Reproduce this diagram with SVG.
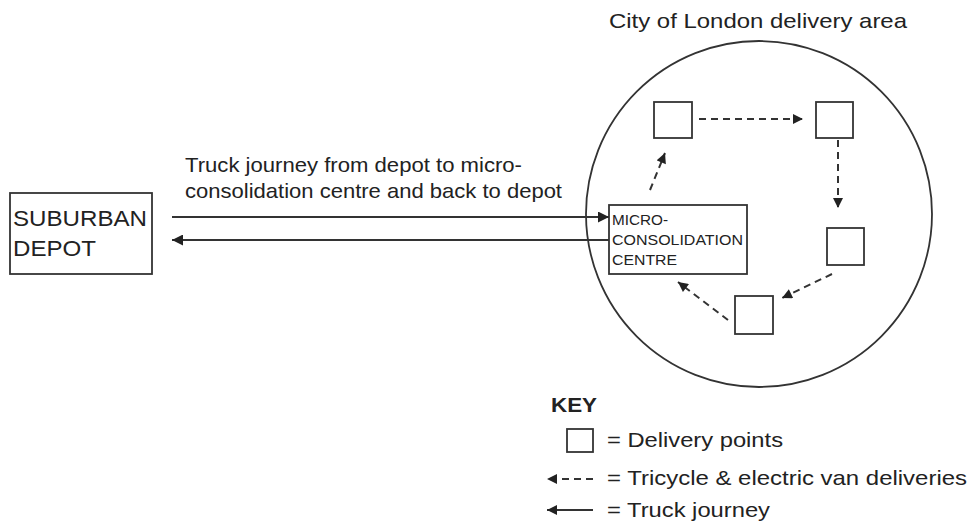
<svg xmlns="http://www.w3.org/2000/svg" width="971" height="524" viewBox="0 0 971 524">
<style>
text{font-family:"Liberation Sans",Arial,sans-serif;fill:#222;}
.box{fill:#fff;stroke:#333;stroke-width:1.8;}
.solid{stroke:#333;stroke-width:2;fill:none;}
.dash{stroke:#333;stroke-width:2;fill:none;stroke-dasharray:7 5;}
</style>
<defs>
<marker id="ah" viewBox="0 0 10 10" refX="10" refY="5" markerWidth="11" markerHeight="10" markerUnits="userSpaceOnUse" orient="auto">
<path d="M0,0 L10,5 L0,10 z" fill="#222"/>
</marker>
<marker id="ah2" viewBox="0 0 10 10" refX="10" refY="5" markerWidth="12" markerHeight="11" markerUnits="userSpaceOnUse" orient="auto">
<path d="M0,0 L10,5 L0,10 z" fill="#222"/>
</marker>
</defs>
<rect width="971" height="524" fill="#fff"/>

<g id="area">
<circle cx="759" cy="214" r="173" fill="none" stroke="#333" stroke-width="1.8"/>
<text x="609" y="28" font-size="21" textLength="298" lengthAdjust="spacingAndGlyphs">City of London delivery area</text>
</g>

<g id="depot">
<rect class="box" x="10" y="193" width="142" height="81"/>
<text x="13" y="226" font-size="22" textLength="134" lengthAdjust="spacingAndGlyphs">SUBURBAN</text>
<text x="13" y="256" font-size="22" textLength="83" lengthAdjust="spacingAndGlyphs">DEPOT</text>
</g>

<g id="micro">
<rect class="box" x="609" y="205" width="138" height="69"/>
<text x="612" y="225" font-size="15" textLength="56" lengthAdjust="spacingAndGlyphs">MICRO-</text>
<text x="612" y="245" font-size="15" textLength="131" lengthAdjust="spacingAndGlyphs">CONSOLIDATION</text>
<text x="612" y="265" font-size="15" textLength="65" lengthAdjust="spacingAndGlyphs">CENTRE</text>
</g>

<g id="dp1"><rect class="box" x="654" y="102" width="38" height="36"/></g>
<g id="dp2"><rect class="box" x="816" y="102" width="37" height="36"/></g>
<g id="dp3"><rect class="box" x="827" y="228" width="37" height="37"/></g>
<g id="dp4"><rect class="box" x="735" y="296" width="38" height="38"/></g>

<g id="truck-label">
<text x="185" y="172" font-size="21" textLength="337" lengthAdjust="spacingAndGlyphs">Truck journey from depot to micro-</text>
<text x="185" y="198" font-size="21" textLength="377" lengthAdjust="spacingAndGlyphs">consolidation centre and back to depot</text>
</g>

<g id="connectors">
<line class="solid" x1="172" y1="217" x2="609" y2="217" marker-end="url(#ah2)"/>
<line class="solid" x1="609" y1="240" x2="172" y2="240" marker-end="url(#ah2)"/>
<line class="dash" x1="699" y1="119" x2="803" y2="119" marker-end="url(#ah)"/>
<line class="dash" x1="838" y1="140" x2="838" y2="208" marker-end="url(#ah)"/>
<line class="dash" x1="832" y1="274" x2="782" y2="298" marker-end="url(#ah)"/>
<line class="dash" x1="728" y1="320" x2="678" y2="282" marker-end="url(#ah)"/>
<line class="dash" x1="650" y1="190" x2="665" y2="153" marker-end="url(#ah)"/>
</g>

<g id="key">
<text x="551" y="412" font-size="21" font-weight="bold" textLength="46" lengthAdjust="spacingAndGlyphs">KEY</text>
<rect class="box" x="567" y="429" width="26" height="23"/>
<text x="607" y="447" font-size="21" textLength="176" lengthAdjust="spacingAndGlyphs">= Delivery points</text>
<line class="dash" x1="593" y1="479" x2="547" y2="479" stroke-dasharray="6 4" marker-end="url(#ah)"/>
<text x="607" y="485" font-size="21" textLength="360" lengthAdjust="spacingAndGlyphs">= Tricycle &amp; electric van deliveries</text>
<line class="solid" x1="593" y1="510" x2="547" y2="510" marker-end="url(#ah)"/>
<text x="607" y="517" font-size="21" textLength="163" lengthAdjust="spacingAndGlyphs">= Truck journey</text>
</g>
</svg>
